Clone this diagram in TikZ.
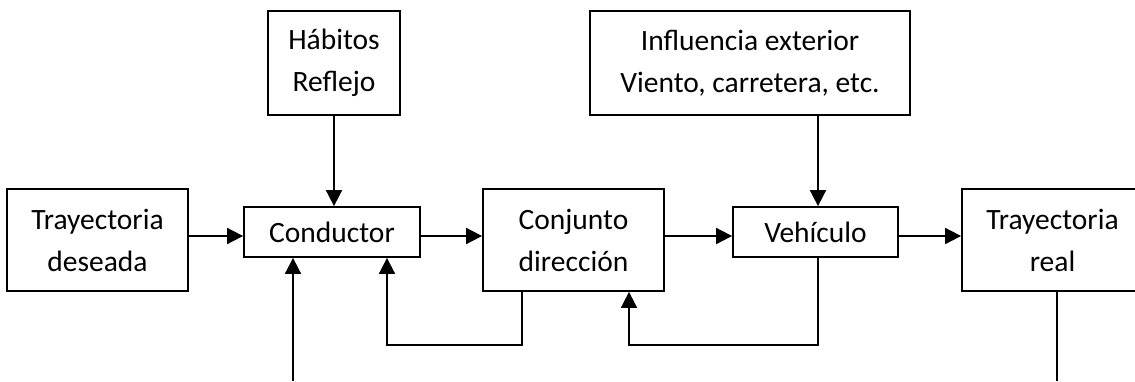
\documentclass[tikz,border=0pt]{standalone}
\usepackage{fontspec}
\setmainfont{Carlito}
\usetikzlibrary{arrows.meta}
\begin{document}
\begin{tikzpicture}[x=1pt,y=-1pt,
        bloque/.style = {draw, line width=1.8pt, align=center, inner sep=0pt,
                         font=\fontsize{29.5}{42}\selectfont},
        flecha/.style = {line width=1.8pt, -{Triangle[length=16pt,width=16pt]}},
        linea/.style = {line width=1.8pt}]
                \useasboundingbox (0,0) rectangle (1135,381);
                % bloques
                \node[bloque, minimum width=181pt, minimum height=102pt] (tdes) at (97.5,240) {Trayectoria\\deseada};
                \node[bloque, minimum width=176pt, minimum height=50pt] (cond) at (332,232) {Conductor};
                \node[bloque, minimum width=181pt, minimum height=102pt] (conj) at (573.5,240) {Conjunto\\dirección};
                \node[bloque, minimum width=165pt, minimum height=50pt] (veh) at (815.5,232) {Vehículo};
                \node[bloque, minimum width=181pt, minimum height=102pt] (treal) at (1052.5,240) {Trayectoria\\real};
                \node[bloque, minimum width=132pt, minimum height=104pt] (hab) at (334,63) {Hábitos\\Reflejo};
                \node[bloque, minimum width=320pt, minimum height=104pt] (infl) at (750,63) {Influencia exterior\\Viento, carretera, etc.};
                % puntos auxiliares
                \coordinate (eje) at (0,236);
                \coordinate (ent) at (293,381);
                \coordinate (sal) at (1057,381);
                \coordinate (r1) at (522,345);
                \coordinate (r2) at (387,345);
                \coordinate (r3) at (818,345);
                \coordinate (r4) at (629,345);
                % cadena principal
                \draw[flecha] (tdes.east |- eje) -- (cond.west |- eje);
                \draw[flecha] (cond.east |- eje) -- (conj.west |- eje);
                \draw[flecha] (conj.east |- eje) -- (veh.west |- eje);
                \draw[flecha] (veh.east |- eje) -- (treal.west |- eje);
                % perturbaciones
                \draw[flecha] (hab.south) -- (hab.south |- cond.north);
                \draw[flecha] (r3 |- infl.south) -- (r3 |- veh.north);
                \draw[flecha] (ent) -- (ent |- cond.south);
                % realimentaciones
                \draw[flecha] (r1 |- conj.south) -- (r1) -- (r2) -- (r2 |- cond.south);
                \draw[flecha] (r3 |- veh.south) -- (r3) -- (r4) -- (r4 |- conj.south);
                \draw[linea] (sal |- treal.south) -- (sal);
            \end{tikzpicture}
\end{document}
